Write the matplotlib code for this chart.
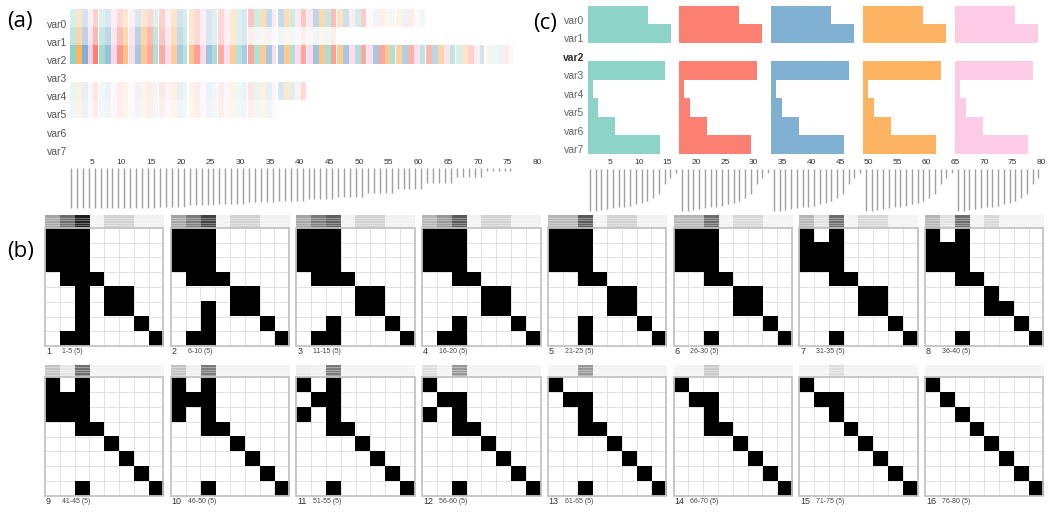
import matplotlib
matplotlib.use('Agg')
import matplotlib.pyplot as plt
import numpy as np
from matplotlib.colors import to_rgba

W, H = 1053, 512
fig = plt.figure(figsize=(W / 100, H / 100), dpi=100)

# ---------------- data ----------------
var_names = ['var0', 'var1', 'var2', 'var3', 'var4', 'var5', 'var6', 'var7']
palette = ['#8dd3c7', '#fb8072', '#80b1d3', '#fdb462', '#fccde5']
tick_values = [5, 10, 15, 20, 25, 30, 35, 40, 45, 50, 55, 60, 65, 70, 75, 80]

# (a) colour index of each of the 75 shown columns
column_color_idx = [0, 3, 2, 4, 1, 0, 2, 4, 1, 3, 4, 2, 3, 1, 0, 1, 4, 3, 2, 0,
                    3, 1, 4, 2, 0, 1, 4, 3, 0, 2, 1, 0, 3, 2, 4, 2, 3, 0, 4, 1,
                    4, 2, 3, 0, 1, 3, 2, 4, 0, 1, 4, 2, 1, 3, 0, 3, 2, 1, 4, 0,
                    1, 2, 3, 4, 0, 0, 3, 1, 4, 2, 3, 0, 2, 1, 4]
# (a) opacity per group of 5 columns for each variable
alpha_var0 = [0.35, 0.3, 0.3, 0.35, 0.3, 0.3, 0.45, 0.45, 0.5, 0.4, 0.12, 0.15]
alpha_var1 = [0.55, 0.5, 0.55, 0.45, 0.3, 0.3, 0.12, 0.12, 0.12]
alpha_var2 = [1.0, 0.8, 0.7, 0.65, 0.75, 0.65, 0.7, 0.7, 0.75, 0.7, 0.7, 0.6, 0.55, 0.35, 0.15]
alpha_var3 = []
alpha_var4 = [0.2, 0.15, 0.15, 0.18, 0.15, 0.15, 0.2, 0.3]
alpha_var5 = [0.15, 0.12, 0.12, 0.12, 0.12, 0.12, 0.12]
alpha_var6 = []
alpha_var7 = []
# (a) hanging line length (px) per group of 5 columns
a_line_lengths = [40, 40, 39.3, 38.3, 36.7, 35.7, 34, 32.3, 31, 28.3, 25, 20.7, 15, 9, 2.3]

# (b) matrices: row strings, '1' = black cell
matrices = [
    ["11100000", "11100000", "11100000", "01110000", "00101100", "00101100", "00100010", "01100001"],
    ["11100000", "11100000", "11100000", "01110000", "00001100", "00101100", "00100010", "01100001"],
    ["11100000", "11100000", "11100000", "01110000", "00001100", "00001100", "00100010", "01100001"],
    ["11100000", "11100000", "11100000", "00110000", "00001100", "00001100", "00100010", "01100001"],
    ["11100000", "11100000", "11100000", "00110000", "00001100", "00001100", "00100010", "00100001"],
    ["11100000", "11100000", "11100000", "00110000", "00001100", "00001100", "00000010", "00100001"],
    ["10100000", "11100000", "11100000", "00110000", "00001100", "00001100", "00000010", "00100001"],
    ["10100000", "11100000", "11100000", "00110000", "00001000", "00001100", "00000010", "00100001"],
    ["10100000", "11100000", "11100000", "00110000", "00001000", "00000100", "00000010", "00100001"],
    ["10100000", "11100000", "10100000", "00110000", "00001000", "00000100", "00000010", "00100001"],
    ["10100000", "01100000", "10100000", "00110000", "00001000", "00000100", "00000010", "00100001"],
    ["10000000", "01100000", "10100000", "00110000", "00001000", "00000100", "00000010", "00100001"],
    ["10000000", "01100000", "00100000", "00110000", "00001000", "00000100", "00000010", "00100001"],
    ["10000000", "01100000", "00100000", "00110000", "00001000", "00000100", "00000010", "00000001"],
    ["10000000", "01100000", "00100000", "00010000", "00001000", "00000100", "00000010", "00000001"],
    ["10000000", "01000000", "00100000", "00010000", "00001000", "00000100", "00000010", "00000001"],
]
header_levels = [
    [0.45, 0.65, 0.9, 0.1, 0.28, 0.28, 0.12, 0.12],
    [0.45, 0.6, 0.8, 0.1, 0.28, 0.28, 0.12, 0.12],
    [0.45, 0.6, 0.7, 0.1, 0.28, 0.28, 0.12, 0.12],
    [0.4, 0.5, 0.72, 0.1, 0.28, 0.28, 0.12, 0.12],
    [0.4, 0.4, 0.72, 0.1, 0.28, 0.28, 0.12, 0.12],
    [0.4, 0.4, 0.65, 0.1, 0.25, 0.25, 0.1, 0.1],
    [0.4, 0.2, 0.65, 0.1, 0.25, 0.25, 0.1, 0.1],
    [0.4, 0.2, 0.65, 0.1, 0.25, 0.1, 0.1, 0.1],
    [0.35, 0.18, 0.65, 0.1, 0.1, 0.1, 0.1, 0.1],
    [0.35, 0.12, 0.6, 0.1, 0.1, 0.1, 0.1, 0.1],
    [0.15, 0.12, 0.6, 0.1, 0.1, 0.1, 0.1, 0.1],
    [0.22, 0.1, 0.5, 0.1, 0.1, 0.1, 0.1, 0.1],
    [0.1, 0.1, 0.5, 0.1, 0.1, 0.1, 0.1, 0.1],
    [0.1, 0.1, 0.32, 0.1, 0.1, 0.1, 0.1, 0.1],
    [0.1, 0.1, 0.22, 0.1, 0.1, 0.1, 0.1, 0.1],
    [0.1, 0.1, 0.1, 0.1, 0.1, 0.1, 0.1, 0.1],
]
matrix_ids = ['1', '2', '3', '4', '5', '6', '7', '8', '9', '10', '11', '12', '13', '14', '15', '16']
matrix_ranges = ['1-5 (5)', '6-10 (5)', '11-15 (5)', '16-20 (5)', '21-25 (5)', '26-30 (5)',
                 '31-35 (5)', '36-40 (5)', '41-45 (5)', '46-50 (5)', '51-55 (5)', '56-60 (5)',
                 '61-65 (5)', '66-70 (5)', '71-75 (5)', '76-80 (5)']

# (c) small multiples
panel_starts = [1.1, 17, 33, 49, 65]
bar_widths = [10.5, 14.5, 0, 13.5, 0.85, 1.85, 4.8, 12.6]
c_line_lengths = [42, 41.7, 41, 40.3, 39, 38.3, 37.7, 36.7, 35.3, 33.7, 31.7, 28.7, 25, 15, 9.3, 3.7]

# ---------------- helpers ----------------
LBL_FONT = ['Liberation Sans', 'DejaVu Sans']


def px_axes(x0, y0, x1, y1):
    ax = fig.add_axes([x0 / W, 1 - y1 / H, (x1 - x0) / W, (y1 - y0) / H])
    ax.set_axis_off()
    return ax


# ---------------- (a) ----------------
A_X0, A_SCALE = 62.0, 5.94
ax_a = px_axes(A_X0, 9.3, A_X0 + 80 * A_SCALE, 154.0)
ax_a.set_xlim(0, 80)
ax_a.set_ylim(8, 0)
alpha_rows = [alpha_var0, alpha_var1, alpha_var2, alpha_var3,
              alpha_var4, alpha_var5, alpha_var6, alpha_var7]
for r, alphas in enumerate(alpha_rows):
    if not alphas:
        continue
    xs = np.arange(1, len(alphas) * 5 + 1)
    cols = [to_rgba(palette[column_color_idx[i - 1]], alphas[(i - 1) // 5]) for i in xs]
    widths = [0.8 if i % 5 == 0 else 1.0 for i in xs]
    ax_a.bar(xs + 0.3, height=1, bottom=r, width=widths, align='edge',
             color=cols, linewidth=0)
for r, name in enumerate(var_names):
    ax_a.text(0.85, r + 0.87, name, ha='right', va='center', fontsize=7.5,
              color='#555555', family=LBL_FONT, clip_on=False)

ax_al = fig.add_axes([A_X0 / W, 1 - 212 / H, 80 * A_SCALE / W, (212 - 168.3) / H])
ax_al.set_xlim(0, 80)
ax_al.set_ylim(43.7, 0)
for s in ax_al.spines.values():
    s.set_visible(False)
ax_al.set_yticks([])
ax_al.xaxis.tick_top()
ax_al.set_xticks(tick_values)
ax_al.set_xticklabels([str(t) for t in tick_values], fontsize=6, color='#333333',
                      family=LBL_FONT)
ax_al.tick_params(axis='x', length=0, pad=2)
a_cols = np.arange(1, len(a_line_lengths) * 5 + 1)
a_lens = [a_line_lengths[(i - 1) // 5] for i in a_cols]
ax_al.vlines(a_cols + 0.5, 0, a_lens, color='#a0a0a0', linewidth=1.0)

# ---------------- (c) ----------------
C_X0, C_SCALE = 581.3, 5.75
ax_c = px_axes(C_X0, 5.7, C_X0 + 80 * C_SCALE, 153.7)
ax_c.set_xlim(0, 80)
ax_c.set_ylim(8, 0)
for p, start in enumerate(panel_starts):
    ys = [r for r in range(8) if bar_widths[r] > 0]
    ax_c.barh([y + 0.5 for y in ys], [bar_widths[y] for y in ys], left=start, height=1.0,
              color=palette[p], linewidth=0)
for r, name in enumerate(var_names):
    bold = (name == 'var2')
    ax_c.text(0.5, r + 0.82, name, ha='right', va='center', fontsize=7.5,
              color='#333333' if bold else '#666666',
              fontweight='bold' if bold else 'normal', family=LBL_FONT, clip_on=False)

ax_cl = fig.add_axes([C_X0 / W, 1 - 212 / H, 80 * C_SCALE / W, (212 - 169) / H])
ax_cl.set_xlim(0, 80)
ax_cl.set_ylim(43, 0)
for s in ax_cl.spines.values():
    s.set_visible(False)
ax_cl.set_yticks([])
ax_cl.xaxis.tick_top()
ax_cl.set_xticks(tick_values)
ax_cl.set_xticklabels([str(t) for t in tick_values], fontsize=6, color='#333333',
                      family=LBL_FONT)
ax_cl.tick_params(axis='x', length=0, pad=2)
for start in panel_starts:
    xs = np.arange(len(c_line_lengths)) + round(start) + 0.5
    ax_cl.vlines(xs, 0, c_line_lengths, color='#a0a0a0', linewidth=1.0)

# ---------------- (b) ----------------
M_LEFT0, M_STEP, M_SIZE = 45.0, 125.7, 118.5
M_TOPS = [227.7, 377.3]
HDR_H = 12.7
for k, (mat, hdr) in enumerate(zip(matrices, header_levels)):
    row, colm = divmod(k, 8)
    x0 = M_LEFT0 + colm * M_STEP
    y0 = M_TOPS[row]
    # header
    axh = px_axes(x0, y0 - HDR_H, x0 + M_SIZE, y0)
    axh.imshow(np.array([hdr]), cmap='Greys', vmin=0, vmax=1, aspect='auto',
               extent=(0, 8, 1, 0), interpolation='nearest')
    axh.set_xlim(0, 8)
    axh.set_ylim(1, 0)
    for yy in [0.2, 0.4, 0.6, 0.8]:
        axh.axhline(yy, color='white', alpha=0.35, linewidth=0.8)
    # matrix
    axm = px_axes(x0, y0, x0 + M_SIZE, y0 + M_SIZE)
    arr = np.array([[int(c) for c in s] for s in mat])
    axm.set_xlim(0, 8)
    axm.set_ylim(8, 0)
    for g in range(1, 8):
        axm.axhline(g, color='#dddddd', linewidth=0.6, zorder=1)
        axm.axvline(g, color='#dddddd', linewidth=0.6, zorder=1)
    axm.imshow(np.ma.masked_equal(arr, 0), cmap='Greys', vmin=0, vmax=1,
               extent=(0, 8, 8, 0), interpolation='nearest', zorder=2, aspect='auto')
    axm.set_xlim(0, 8)
    axm.set_ylim(8, 0)
    axm.add_patch(plt.Rectangle((0, 0), 8, 8, fill=False, edgecolor='#c4c4c4',
                                linewidth=1.3, zorder=3, clip_on=False))
    # labels
    ly = y0 + M_SIZE + 5.5
    fig.text((x0 + 1) / W, 1 - ly / H, matrix_ids[k], ha='left', va='center',
             fontsize=6.5, color='#333333', family=LBL_FONT)
    fig.text((x0 + 17) / W, 1 - ly / H, matrix_ranges[k], ha='left', va='center',
             fontsize=5, color='#444444', family=LBL_FONT)

# ---------------- panel letters ----------------
LET_FONT = ['Open Sans', 'DejaVu Sans']
fig.text(20 / W, 1 - 21.5 / H, '(a)', ha='center', va='center', fontsize=16,
         family=LET_FONT)
fig.text(21 / W, 1 - 251 / H, '(b)', ha='center', va='center', fontsize=16,
         family=LET_FONT)
fig.text(545 / W, 1 - 23 / H, '(c)', ha='center', va='center', fontsize=16,
         family=LET_FONT)

fig.savefig('out.png', dpi=100)
